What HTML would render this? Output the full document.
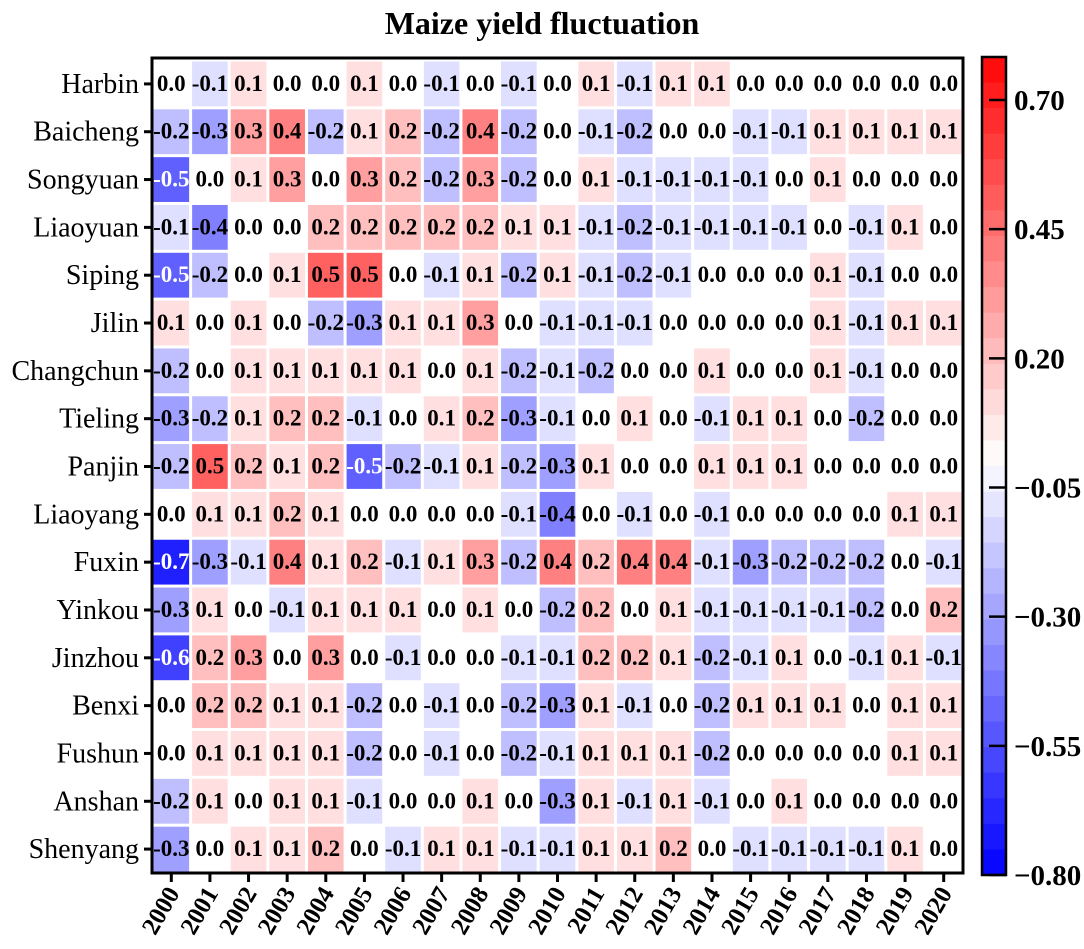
<!DOCTYPE html>
<html><head><meta charset="utf-8"><style>
body{margin:0;background:#fff;}
svg{display:block;font-family:"Liberation Serif",serif;}
</style></head><body>
<svg id="chart" width="1084" height="949" viewBox="0 0 1084 949"></svg>
<script>
const regions=["Harbin","Baicheng","Songyuan","Liaoyuan","Siping","Jilin","Changchun","Tieling","Panjin","Liaoyang","Fuxin","Yinkou","Jinzhou","Benxi","Fushun","Anshan","Shenyang"];
const years=["2000","2001","2002","2003","2004","2005","2006","2007","2008","2009","2010","2011","2012","2013","2014","2015","2016","2017","2018","2019","2020"];
const values=[
[0.0,-0.1,0.1,0.0,0.0,0.1,0.0,-0.1,0.0,-0.1,0.0,0.1,-0.1,0.1,0.1,0.0,0.0,0.0,0.0,0.0,0.0],
[-0.2,-0.3,0.3,0.4,-0.2,0.1,0.2,-0.2,0.4,-0.2,0.0,-0.1,-0.2,0.0,0.0,-0.1,-0.1,0.1,0.1,0.1,0.1],
[-0.5,0.0,0.1,0.3,0.0,0.3,0.2,-0.2,0.3,-0.2,0.0,0.1,-0.1,-0.1,-0.1,-0.1,0.0,0.1,0.0,0.0,0.0],
[-0.1,-0.4,0.0,0.0,0.2,0.2,0.2,0.2,0.2,0.1,0.1,-0.1,-0.2,-0.1,-0.1,-0.1,-0.1,0.0,-0.1,0.1,0.0],
[-0.5,-0.2,0.0,0.1,0.5,0.5,0.0,-0.1,0.1,-0.2,0.1,-0.1,-0.2,-0.1,0.0,0.0,0.0,0.1,-0.1,0.0,0.0],
[0.1,0.0,0.1,0.0,-0.2,-0.3,0.1,0.1,0.3,0.0,-0.1,-0.1,-0.1,0.0,0.0,0.0,0.0,0.1,-0.1,0.1,0.1],
[-0.2,0.0,0.1,0.1,0.1,0.1,0.1,0.0,0.1,-0.2,-0.1,-0.2,0.0,0.0,0.1,0.0,0.0,0.1,-0.1,0.0,0.0],
[-0.3,-0.2,0.1,0.2,0.2,-0.1,0.0,0.1,0.2,-0.3,-0.1,0.0,0.1,0.0,-0.1,0.1,0.1,0.0,-0.2,0.0,0.0],
[-0.2,0.5,0.2,0.1,0.2,-0.5,-0.2,-0.1,0.1,-0.2,-0.3,0.1,0.0,0.0,0.1,0.1,0.1,0.0,0.0,0.0,0.0],
[0.0,0.1,0.1,0.2,0.1,0.0,0.0,0.0,0.0,-0.1,-0.4,0.0,-0.1,0.0,-0.1,0.0,0.0,0.0,0.0,0.1,0.1],
[-0.7,-0.3,-0.1,0.4,0.1,0.2,-0.1,0.1,0.3,-0.2,0.4,0.2,0.4,0.4,-0.1,-0.3,-0.2,-0.2,-0.2,0.0,-0.1],
[-0.3,0.1,0.0,-0.1,0.1,0.1,0.1,0.0,0.1,0.0,-0.2,0.2,0.0,0.1,-0.1,-0.1,-0.1,-0.1,-0.2,0.0,0.2],
[-0.6,0.2,0.3,0.0,0.3,0.0,-0.1,0.0,0.0,-0.1,-0.1,0.2,0.2,0.1,-0.2,-0.1,0.1,0.0,-0.1,0.1,-0.1],
[0.0,0.2,0.2,0.1,0.1,-0.2,0.0,-0.1,0.0,-0.2,-0.3,0.1,-0.1,0.0,-0.2,0.1,0.1,0.1,0.0,0.1,0.1],
[0.0,0.1,0.1,0.1,0.1,-0.2,0.0,-0.1,0.0,-0.2,-0.1,0.1,0.1,0.1,-0.2,0.0,0.0,0.0,0.0,0.1,0.1],
[-0.2,0.1,0.0,0.1,0.1,-0.1,0.0,0.0,0.1,0.0,-0.3,0.1,-0.1,0.1,-0.1,0.0,0.1,0.0,0.0,0.0,0.0],
[-0.3,0.0,0.1,0.1,0.2,0.0,-0.1,0.1,0.1,-0.1,-0.1,0.1,0.1,0.2,0.0,-0.1,-0.1,-0.1,-0.1,0.1,0.0]
];
const cbTicks=[0.70,0.45,0.20,-0.05,-0.30,-0.55,-0.80];

const NS="http://www.w3.org/2000/svg";
const svg=document.getElementById('chart');
function mk(tag,attrs,parent){const e=document.createElementNS(NS,tag);for(const k in attrs)e.setAttribute(k,attrs[k]);(parent||svg).appendChild(e);return e;}
const L=152,R=963,T=60,B=873;
const cw=(R-L)/years.length, ch=(B-T)/regions.length;
const xc=i=>L+cw*(i+0.5), yc=j=>T+ch*(j+0.5);
function color(v){
  let t=Math.max(-1,Math.min(1,v/0.8));
  if(t>=0){const g=Math.round(255*(1-t));return `rgb(255,${g},${g})`;}
  const g=Math.round(255*(1+t));return `rgb(${g},${g},255)`;
}
let title=mk('text',{x:542,y:34,'text-anchor':'middle','font-size':32,'font-weight':'bold'});
title.textContent='Maize yield fluctuation';


values.forEach((row,j)=>row.forEach((v,i)=>{
  const r=mk('rect',{x:xc(i)-cw/2+1.5,y:yc(j)-ch/2+1.5,width:cw-3,height:ch-3,fill:color(v)});
  
  
  const t=mk('text',{x:xc(i),y:yc(j)+7,'text-anchor':'middle','font-size':23,'font-weight':'bold',fill:(v<=-0.45)?'#fff':'#000'});
  t.textContent=v.toFixed(1);
  
  
}));
mk('rect',{x:L,y:T-2,width:R-L,height:B-T+2,fill:'none',stroke:'#000','stroke-width':3});
regions.forEach((n,j)=>{
  mk('line',{x1:L-8,x2:L,y1:yc(j),y2:yc(j),stroke:'#000','stroke-width':3});
  const t=mk('text',{x:L-13,y:yc(j)+9,'text-anchor':'end','font-size':28});
  t.textContent=n;
  
  
});
years.forEach((y,i)=>{
  mk('line',{x1:xc(i),x2:xc(i),y1:B,y2:B+9,stroke:'#000','stroke-width':3});
  const t=mk('text',{x:xc(i)+9,y:B+20,'text-anchor':'end','font-size':25,'font-weight':'bold',transform:`rotate(-60 ${xc(i)+9} ${B+20})`});
  t.textContent=y;
  
  
});
const cbL=982,cbR=1006,cbT=57,cbB=875;
const cy=v=>100+(0.70-v)*(cbB-100)/1.5;
const vTop=0.70+(100-cbT)*1.5/(cbB-100);
const steps=32;
for(let k=0;k<steps;k++){
  const v0=vTop-(vTop+0.8)*k/steps, v1=vTop-(vTop+0.8)*(k+1)/steps;
  const r=mk('rect',{x:cbL,y:cy(v0),width:cbR-cbL,height:cy(v1)-cy(v0)+0.5,fill:color((v0+v1)/2)});
  
  
}
mk('rect',{x:cbL,y:cbT,width:cbR-cbL,height:cbB-cbT,fill:'none',stroke:'#000','stroke-width':2.5});
cbTicks.forEach(v=>{
  mk('line',{x1:cbR-17,x2:cbR,y1:cy(v),y2:cy(v),stroke:'#000','stroke-width':2.5});
  const t=mk('text',{x:1014,y:cy(v)+10,'font-size':29,'font-weight':'bold'});
  t.textContent=(v<0?'\u2212':'')+Math.abs(v).toFixed(2);
  
  
});
</script>
</body></html>
